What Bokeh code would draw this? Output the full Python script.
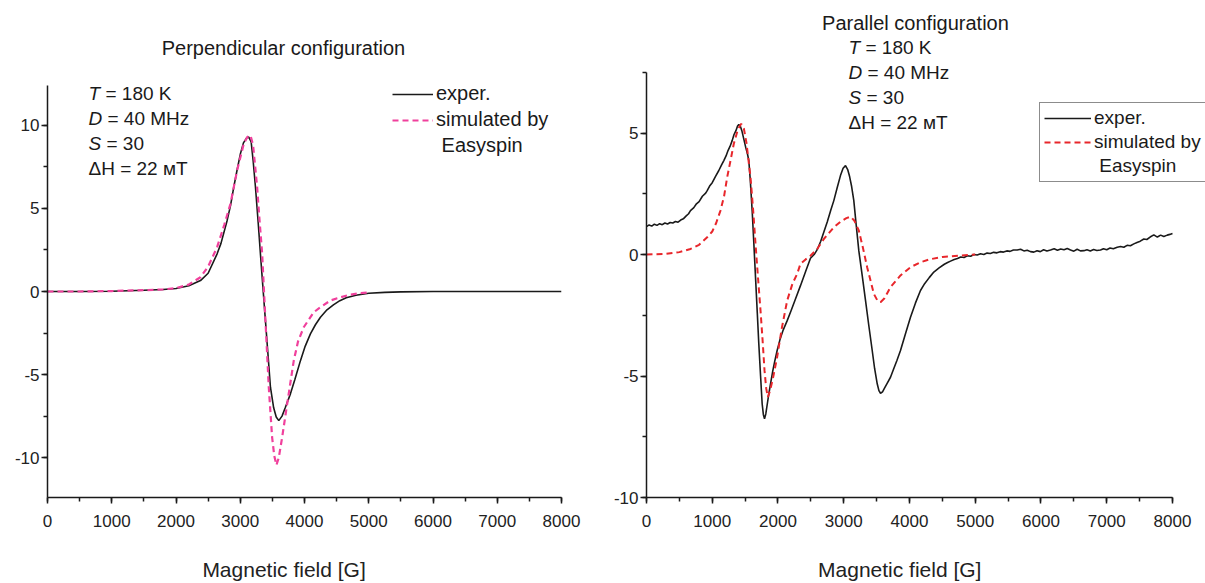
from bokeh.plotting import figure
from bokeh.layouts import row
from bokeh.models import (Range1d, SingleIntervalTicker, Label, Legend, LegendItem,
                          PrintfTickFormatter)
from bokeh.embed import file_html
from bokeh.resources import INLINE

FONT = "Liberation Sans"

# ---------------- data: perpendicular configuration ----------------
perp_exp_x = [0, 500, 1000, 1500, 1800, 2000, 2200, 2381, 2500, 2640, 2700, 2796, 2850, 2899,
              2950, 3003, 3050, 3100, 3133, 3170, 3200, 3237, 3280, 3314, 3350, 3392, 3430,
              3470, 3520, 3560, 3600, 3650, 3700, 3781, 3850, 3937, 4010, 4092, 4170, 4248,
              4350, 4450, 4550, 4650, 4800, 5000, 5250, 5500, 6000, 7000, 8000]
perp_exp_y = [0.0, 0.0, 0.02, 0.08, 0.12, 0.18, 0.35, 0.66, 1.1, 2.27, 2.9, 4.28, 5.2, 6.28,
              7.3, 8.3, 8.95, 9.25, 9.3, 9.0, 7.9, 6.28, 4.1, 2.27, 0.4, -1.75, -3.7,
              -5.76, -7.0, -7.55, -7.77, -7.5, -7.0, -6.16, -5.3, -4.16, -3.3, -2.55, -2.0, -1.55,
              -1.1, -0.8, -0.55, -0.38, -0.22, -0.1, -0.05, -0.02, 0.0, 0.0, 0.0]

perp_sim_x = [0, 500, 1000, 1500, 1800, 2000, 2200, 2381, 2500, 2640, 2750, 2848, 2951, 3055,
              3110, 3159, 3200, 3263, 3300, 3341, 3392, 3444, 3496, 3530, 3563, 3600, 3652,
              3730, 3833, 3900, 3988, 4144, 4248, 4400, 4510, 4700, 4866, 5000]
perp_sim_y = [0.0, 0.0, 0.03, 0.08, 0.13, 0.2, 0.42, 0.86, 1.5, 2.67, 4.0, 5.28, 7.29, 8.9,
              9.3, 9.4, 8.8, 6.28, 4.3, 2.27, -1.75, -5.76, -8.78, -9.9, -10.45, -10.0, -8.78,
              -6.77, -4.16, -3.0, -2.15, -1.25, -0.94, -0.55, -0.4, -0.2, -0.1, -0.05]

# ---------------- data: parallel configuration ----------------
par_exp_x = [0, 40, 80, 120, 160, 200, 240, 280, 320, 360, 400, 440, 480, 520, 560, 600, 640,
             669, 720, 760, 800, 850, 900, 923, 960, 1000, 1050, 1100, 1140, 1176, 1210, 1240,
             1270, 1303, 1330, 1360, 1385, 1404, 1425, 1450, 1480, 1510, 1535, 1556, 1580,
             1607, 1630, 1658, 1685, 1708, 1735, 1759, 1778, 1795, 1815, 1840, 1860, 1886,
             1920, 1950, 1987, 2030, 2080, 2140, 2200, 2270, 2342, 2420, 2494, 2550, 2596,
             2650, 2700, 2750, 2800, 2849, 2900, 2950, 2990, 3027, 3060, 3090, 3120, 3153,
             3190, 3229, 3280, 3331, 3380, 3433, 3470, 3509, 3535, 3559, 3590, 3620, 3660,
             3711, 3760, 3810, 3863, 3940, 4015, 4090, 4167, 4230, 4300, 4370, 4450, 4530,
             4580, 4624, 4680, 4730, 4780, 4830, 4880, 4930, 4980, 5030, 5080, 5130, 5180,
             5230, 5280, 5330, 5380, 5430, 5480, 5530, 5580, 5638, 5690, 5740, 5790, 5840,
             5891, 5940, 5990, 6040, 6090, 6145, 6200, 6250, 6300, 6350, 6399, 6450, 6500,
             6550, 6600, 6652, 6700, 6750, 6800, 6850, 6905, 6950, 7000, 7050, 7100, 7159,
             7210, 7260, 7310, 7360, 7412, 7460, 7510, 7564, 7610, 7660, 7716, 7770, 7820,
             7868, 7920, 7960, 8000]
par_exp_y = [1.15, 1.22, 1.17, 1.25, 1.2, 1.27, 1.23, 1.3, 1.26, 1.32, 1.3, 1.36, 1.33, 1.42,
             1.47, 1.58, 1.68, 1.81, 1.93, 2.09, 2.18, 2.4, 2.53, 2.63, 2.82, 2.96, 3.22, 3.46,
             3.68, 3.87, 4.06, 4.28, 4.45, 4.69, 4.93, 5.1, 5.29, 5.35, 5.3, 5.1, 4.75, 4.4,
             4.15, 3.87, 3.0, 1.81, 0.6, -0.93, -2.4, -3.67, -5.0, -6.14, -6.6, -6.76, -6.55,
             -6.1, -5.75, -5.32, -4.8, -4.4, -3.95, -3.5, -3.1, -2.72, -2.3, -1.8, -1.28,
             -0.7, -0.15, 0.0, 0.2, 0.55, 0.95, 1.35, 1.8, 2.22, 2.75, 3.25, 3.55, 3.66, 3.5,
             3.2, 2.8, 2.22, 1.2, 0.16, -0.85, -1.89, -2.9, -3.95, -4.7, -5.32, -5.6, -5.71,
             -5.65, -5.5, -5.3, -5.05, -4.7, -4.35, -3.95, -3.25, -2.58, -2.0, -1.48, -1.2,
             -0.95, -0.72, -0.55, -0.4, -0.33, -0.27, -0.2, -0.16, -0.1, -0.12, -0.05, -0.07,
             0.0, -0.02, 0.03, 0.0, 0.06, 0.04, 0.09, 0.07, 0.12, 0.1, 0.15, 0.13, 0.19, 0.19,
             0.22, 0.15, 0.18, 0.12, 0.1, 0.16, 0.12, 0.2, 0.15, 0.19, 0.24, 0.18, 0.23, 0.2,
             0.25, 0.19, 0.14, 0.22, 0.15, 0.16, 0.2, 0.15, 0.21, 0.17, 0.19, 0.24, 0.2, 0.27,
             0.24, 0.3, 0.33, 0.3, 0.38, 0.36, 0.44, 0.5, 0.55, 0.64, 0.62, 0.72, 0.81, 0.72,
             0.8, 0.74, 0.8, 0.83, 0.87]

par_sim_x = [0, 300, 500, 669, 800, 923, 1000, 1060, 1125, 1180, 1227, 1280, 1328, 1390, 1440,
             1480, 1520, 1582, 1620, 1658, 1700, 1734, 1765, 1795, 1820, 1845, 1880, 1930, 1987,
             2060, 2140, 2220, 2292, 2342, 2420, 2494, 2596, 2700, 2849, 2950, 3040, 3103,
             3160, 3229, 3290, 3356, 3458, 3510, 3559, 3620, 3711, 3863, 4015, 4167, 4300,
             4500, 4750, 5000]
par_sim_y = [0.0, 0.03, 0.1, 0.23, 0.4, 0.71, 0.95, 1.3, 1.81, 2.4, 3.18, 3.9, 4.56, 5.15, 5.38,
             5.2, 4.6, 3.18, 1.9, 0.44, -1.1, -2.3, -3.5, -4.77, -5.5, -5.87, -5.6, -5.0, -4.22,
             -3.0, -1.89, -1.2, -0.79, -0.38, -0.2, -0.05, 0.23, 0.65, 1.12, 1.35, 1.5, 1.56,
             1.4, 0.99, 0.3, -0.52, -1.62, -1.88, -1.96, -1.8, -1.34, -0.86, -0.52, -0.32, -0.2,
             -0.1, -0.05, 0.0]

x_tick_interval = 1000
y_tick_interval = 5
param_labels = [("T", "= 180 K"), ("D", "= 40 MHz"), ("S", "= 30"), ("", "\u0394H = 22 \u043cT")]
legend_labels = ["exper.", "simulated by", " Easyspin"]
x_axis_title = "Magnetic field [G]"
NBSP = "\u00a0"


def make_fig(width, height, xr, yr, ybounds, mbl, mbr, mbt, mbb, label_pad):
    p = figure(width=width, height=height, x_range=Range1d(*xr), y_range=Range1d(*yr),
               output_backend="svg", toolbar_location=None,
               min_border_left=mbl, min_border_right=mbr, min_border_top=mbt, min_border_bottom=mbb)
    p.title = None
    p.outline_line_color = None
    p.xgrid.visible = False
    p.ygrid.visible = False
    p.xaxis.ticker = SingleIntervalTicker(interval=x_tick_interval, num_minor_ticks=2)
    p.yaxis.ticker = SingleIntervalTicker(interval=y_tick_interval, num_minor_ticks=2)
    p.xaxis.bounds = (0, 8000)
    p.yaxis.bounds = ybounds
    p.xaxis.formatter = PrintfTickFormatter(format="%d")
    p.yaxis.formatter = PrintfTickFormatter(format="%d")
    for ax in (p.xaxis[0], p.yaxis[0]):
        ax.axis_line_color = "#1a1a1a"
        ax.axis_line_width = 1.5
        ax.major_tick_line_color = "#1a1a1a"
        ax.major_tick_line_width = 1.5
        ax.minor_tick_line_color = "#1a1a1a"
        ax.minor_tick_line_width = 1.5
        ax.major_tick_in = 0
        ax.major_tick_out = 6
        ax.minor_tick_in = 0
        ax.minor_tick_out = 4
        ax.major_label_text_font = FONT
        ax.major_label_text_font_size = "17px"
        ax.major_label_text_color = "#222222"
    p.xaxis.major_label_standoff = 11
    p.yaxis.major_label_standoff = 2
    # trailing non-breaking spaces shift the centred label left, as in the original figure
    p.xaxis.axis_label = x_axis_title + NBSP * label_pad
    p.xaxis.axis_label_text_font = FONT
    p.xaxis.axis_label_text_font_size = "21px"
    p.xaxis.axis_label_text_font_style = "normal"
    p.xaxis.axis_label_text_color = "#222222"
    p.xaxis.axis_label_standoff = 28
    return p


def add_text(p, x, y, text, size="19px", style="normal", x_offset=0, align="left"):
    p.add_layout(Label(x=x, y=y, text=text, text_font=FONT, text_font_size=size,
                       text_font_style=style, text_baseline="middle", text_align=align,
                       text_color="#1a1a1a", x_offset=x_offset))


def add_params(p, x, ys):
    offsets = {"T": 17, "D": 19, "S": 18, "": 0}
    for (it, rest), y in zip(param_labels, ys):
        if it:
            add_text(p, x, y, it, style="italic")
        add_text(p, x, y, rest, x_offset=offsets[it])


def make_legend(r_exp, r_sim, loc, glyph_w, spacing, padding, border, size):
    items = [LegendItem(label=legend_labels[0], renderers=[r_exp]),
             LegendItem(label=legend_labels[1], renderers=[r_sim]),
             LegendItem(label=legend_labels[2], renderers=[])]
    leg = Legend(items=items, location=loc, glyph_width=glyph_w, glyph_height=20,
                 label_standoff=3, spacing=spacing, padding=padding, margin=0,
                 label_text_font=FONT, label_text_font_size=size, label_height=22,
                 label_text_color="#1a1a1a")
    if border:
        leg.border_line_color = "#1a1a1a"
        leg.border_line_width = 1
        leg.background_fill_color = "white"
        leg.background_fill_alpha = 1
    else:
        leg.border_line_color = None
        leg.background_fill_alpha = 0
    return leg


# ---------------- left panel ----------------
W1, W2, H = 600, 605, 583
p1 = make_fig(W1, H, (0, 8000), (-12.40, 17.52), (-12.4, 12.4), 47, W1 - 561, 0, H - 497, 7)
r1a = p1.line(perp_exp_x, perp_exp_y, line_color="#1a1a1a", line_width=1.6)
r1b = p1.line(perp_sim_x, perp_sim_y, line_color="#f0409c", line_width=2.2, line_dash="6 4")
add_text(p1, 3673, 14.69, "Perpendicular configuration", size="20px", align="center")
add_params(p1, 638, [11.92, 10.42, 8.91, 7.41])
p1.add_layout(make_legend(r1a, r1b, (345, 340), 41, 3, 0, False, "20px"))

# ---------------- right panel ----------------
p2 = make_fig(W2, H, (0, 8502), (-10, 10.457), (-10, 7.5), 46, 0, 0, H - 497, 9)
r2a = p2.line(par_exp_x, par_exp_y, line_color="#1a1a1a", line_width=1.6)
r2b = p2.line(par_sim_x, par_sim_y, line_color="#e8262b", line_width=2.0, line_dash="6 4")
add_text(p2, 4091, 9.55, "Parallel configuration", size="20px", align="center")
add_params(p2, 3072, [8.52, 7.49, 6.46, 5.43])
p2.add_layout(make_legend(r2a, r2b, (393, 315), 47, 2, 4, True, "19px"))

layout = row(p1, p2)
open("out.html", "w").write(file_html(layout, INLINE))
